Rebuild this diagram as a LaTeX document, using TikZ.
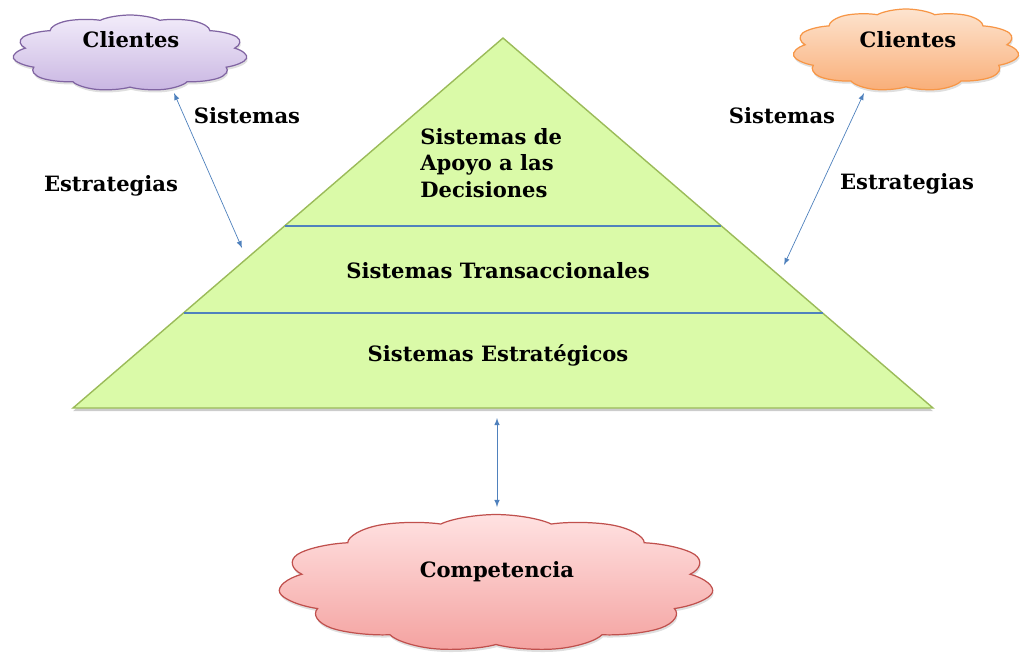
\documentclass[tikz,border=0pt]{standalone}
\usepackage{fontspec}
\setmainfont{DejaVu Serif}
\usetikzlibrary{shapes.symbols,shadows,calc}
\definecolor{azul}{HTML}{4F81BD}
\definecolor{verdeF}{HTML}{DAFAA8}
\definecolor{verdeB}{HTML}{9BBB59}
\definecolor{lilaA}{HTML}{F2ECFA}
\definecolor{lilaC}{HTML}{C9B6E2}
\definecolor{lilaB}{HTML}{8064A2}
\definecolor{narA}{HTML}{FDE4CF}
\definecolor{narC}{HTML}{F9AE78}
\definecolor{narB}{HTML}{F79646}
\definecolor{rojA}{HTML}{FFE2E2}
\definecolor{rojC}{HTML}{F4A2A0}
\definecolor{rojB}{HTML}{C0504D}

\begin{document}
\begin{tikzpicture}[x=0.02cm, y=-0.02cm, >=latex,
  txt/.style={font=\fontsize{12}{15}\selectfont\bfseries, text=black},
  nube/.style={cloud, cloud puffs=11, cloud puff arc=115, cloud ignores aspect, draw=#1, line width=0.7pt,
    inner sep=0pt, transform shape,
    drop shadow={opacity=0.25, shadow xshift=0.5pt, shadow yshift=-1.5pt}},
  flecha/.style={<->, color=azul, thin},
  nivel/.style={draw=azul, line width=0.7pt}]
\useasboundingbox (0,0) rectangle (1023,654);

% la piramide
\coordinate (apice) at (503,38);
\coordinate (baseD) at (933,408);
\coordinate (baseI) at (73,408);
\fill[white, drop shadow={opacity=0.4, shadow xshift=0pt, shadow yshift=-1.8pt}]
  (apice) -- (baseD) -- (baseI) -- cycle;
\draw[fill=verdeF, draw=verdeB, line width=0.8pt] (apice) -- (baseD) -- (baseI) -- cycle;
\draw[nivel] ($(apice)!0.508!(baseI)$) -- ($(apice)!0.508!(baseD)$);
\draw[nivel] ($(apice)!0.743!(baseI)$) -- ($(apice)!0.743!(baseD)$);

\node[txt, align=left, anchor=west, inner sep=0pt] (apoyo) at (420,163) {Sistemas de\\Apoyo a las\\Decisiones};
\node[txt] (trans) at (498,271) {Sistemas Transaccionales};
\node[txt] (estrat) at (498,355) {Sistemas Estratégicos};

% las nubes
\node[nube=lilaB, top color=lilaA, bottom color=lilaC, minimum size=1.52cm, xscale=3.1] (nubeI) at (130,53) {};
\node[nube=narB, top color=narA, bottom color=narC, minimum size=1.64cm, xscale=2.77] (nubeD) at (906,50) {};
\node[nube=rojB, top color=rojA, bottom color=rojC, minimum size=2.74cm, xscale=3.19] (nubeC) at (496,583) {};

\node[txt] (cliI) at (131,40) {Clientes};
\node[txt] (cliD) at (908,40) {Clientes};
\node[txt] (comp) at (497,572) {Competencia};

% las flechas
\coordinate (fI1) at (174,93);
\coordinate (fI2) at (242,248);
\coordinate (fD1) at (864,93);
\coordinate (fD2) at (784,265);
\coordinate (fC1) at (497,418);
\coordinate (fC2) at (497,507);
\draw[flecha] (fI1) -- (fI2);
\draw[flecha] (fD1) -- (fD2);
\draw[flecha] (fC1) -- (fC2);

\node[txt] (sisI) at (247,116) {Sistemas};
\node[txt] (estI) at (111,186) {Estrategias};
\node[txt] (sisD) at (782,116) {Sistemas};
\node[txt] (estD) at (907,184) {Estrategias};
\end{tikzpicture}
\end{document}
